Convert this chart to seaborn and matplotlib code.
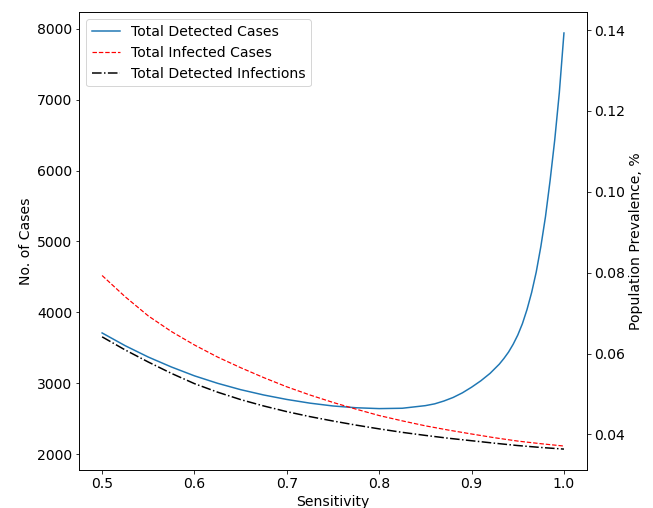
import matplotlib
matplotlib.use("Agg")
import matplotlib.pyplot as plt
import seaborn as sns
import pandas as pd

# Sensitivity grid for the infection curves
sens = [0.5, 0.525, 0.55, 0.575, 0.6, 0.625, 0.65, 0.675, 0.7, 0.725, 0.75,
        0.775, 0.8, 0.825, 0.85, 0.875, 0.9, 0.925, 0.95, 0.975, 1.0]

total_infected = [4520, 4220, 3950, 3730, 3540, 3370, 3220, 3080, 2950, 2835, 2730,
                  2635, 2545, 2470, 2400, 2340, 2285, 2232, 2185, 2148, 2115]

total_detected_infections = [3655, 3470, 3300, 3140, 2995, 2875, 2770, 2680, 2600, 2530, 2468,
                             2410, 2357, 2308, 2265, 2225, 2190, 2155, 2122, 2095, 2072]

# Detected cases rise sharply near perfect sensitivity, so sampled more finely there
sens_detected = [0.5, 0.525, 0.55, 0.575, 0.6, 0.625, 0.65, 0.675, 0.7, 0.725, 0.75,
                 0.775, 0.8, 0.825, 0.85, 0.86, 0.87, 0.88, 0.89, 0.9, 0.91, 0.92,
                 0.93, 0.935, 0.94, 0.945, 0.95, 0.955, 0.96, 0.965, 0.97, 0.975,
                 0.98, 0.985, 0.99, 0.995, 1.0]
total_detected_cases = [3710, 3530, 3370, 3230, 3105, 3000, 2910, 2835, 2772, 2720, 2680,
                        2655, 2643, 2648, 2685, 2710, 2750, 2800, 2865, 2945, 3035, 3140,
                        3270, 3350, 3440, 3550, 3680, 3840, 4040, 4280, 4570, 4930,
                        5350, 5860, 6430, 7100, 7940]

POPULATION = 5_700_000

df_det = pd.DataFrame({"Sensitivity": sens_detected, "Cases": total_detected_cases})
df_inf = pd.DataFrame({"Sensitivity": sens, "Infected": total_infected,
                       "DetInf": total_detected_infections})

plt.rcParams["font.size"] = 14

fig, ax = plt.subplots(figsize=(653 / 72, 508 / 72), dpi=72)
fig.subplots_adjust(left=0.121, right=0.899, bottom=0.075, top=0.976)

sns.lineplot(data=df_det, x="Sensitivity", y="Cases", ax=ax, color="#1f77b4",
             linewidth=1.5, label="Total Detected Cases", estimator=None)
sns.lineplot(data=df_inf, x="Sensitivity", y="Infected", ax=ax, color="red",
             linestyle="--", linewidth=1.2, label="Total Infected Cases", estimator=None)
sns.lineplot(data=df_inf, x="Sensitivity", y="DetInf", ax=ax, color="black",
             linestyle="-.", linewidth=1.5, label="Total Detected Infections", estimator=None)

ax.set_xlabel("Sensitivity")
ax.set_ylabel("No. of Cases")
ax.legend(loc="upper left")

# Secondary axis expressing case counts as a share of the population
ax2 = ax.twinx()
lo, hi = ax.get_ylim()
ax2.set_ylim(lo / POPULATION * 100, hi / POPULATION * 100)
ax2.set_ylabel("Population Prevalence, %")

fig.savefig("out.png", dpi=72)
